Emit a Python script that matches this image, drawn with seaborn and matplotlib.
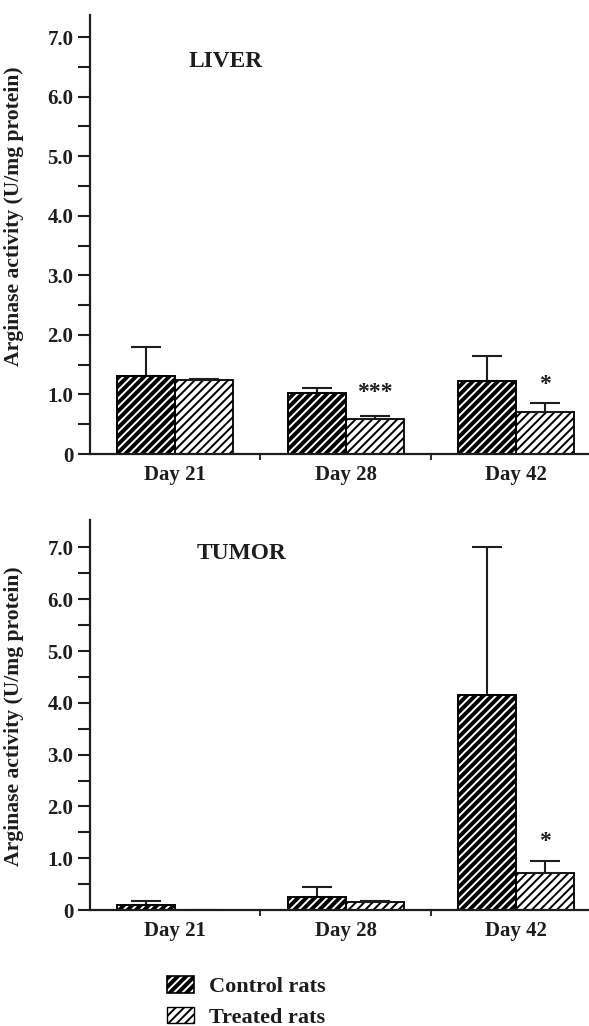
import numpy as np
import pandas as pd
import matplotlib
matplotlib.use("Agg")
import matplotlib.pyplot as plt
from matplotlib.patches import Patch, Rectangle
from matplotlib.legend_handler import HandlerTuple
from matplotlib.ticker import FixedLocator
import seaborn as sns

# ---------------- data ----------------
days = ["Day 21", "Day 28", "Day 42"]
groups = ["Control rats", "Treated rats"]

liver_control = [1.31, 1.02, 1.22]
liver_control_err = [0.49, 0.08, 0.43]
liver_treated = [1.24, 0.59, 0.70]
liver_treated_err = [0.02, 0.04, 0.16]
liver_stars = ["", "***", "*"]
liver_star_y = [np.nan, 0.94, 1.07]

tumor_control = [0.10, 0.26, 4.15]
tumor_control_err = [0.07, 0.19, 2.85]
tumor_treated = [0.0, 0.15, 0.71]
tumor_treated_err = [np.nan, 0.03, 0.24]
tumor_stars = ["", "", "*"]
tumor_star_y = [np.nan, np.nan, 1.21]

ytick_vals = [0, 1, 2, 3, 4, 5, 6, 7]
ytick_labels = ["0", "1.0", "2.0", "3.0", "4.0", "5.0", "6.0", "7.0"]
ylabel = "Arginase activity (U/mg protein)"

INK = "#1e1c1d"
HATCH = "////"

sns.set_theme(style="white")
plt.rcParams["font.family"] = ["Liberation Serif", "DejaVu Serif"]
plt.rcParams["font.weight"] = "bold"
plt.rcParams["hatch.linewidth"] = 1.4
plt.rcParams["text.color"] = INK
plt.rcParams["axes.labelcolor"] = INK
plt.rcParams["xtick.color"] = INK
plt.rcParams["ytick.color"] = INK

W, H = 589, 1026
fig = plt.figure(figsize=(W / 100, H / 100), dpi=100)
ax_top = fig.add_axes([90 / W, 572 / H, 499 / W, 439 / H])
ax_bot = fig.add_axes([90 / W, 116 / H, 499 / W, 390 / H])


def make_df(ctrl, trt):
    return pd.DataFrame({
        "day": days * 2,
        "group": [groups[0]] * 3 + [groups[1]] * 3,
        "value": list(ctrl) + list(trt),
    })


def draw_panel(ax, ctrl, ctrl_err, trt, trt_err, stars, star_y, title, ytop,
               title_xy, label_y):
    df = make_df(ctrl, trt)
    sns.barplot(data=df, x="day", y="value", hue="group", order=days,
                hue_order=groups, palette=["black", "white"], width=0.68,
                errorbar=None, saturation=1, legend=False, ax=ax,
                edgecolor="black", linewidth=1.3)
    errs = [ctrl_err, trt_err]
    conts = list(ax.containers)
    for ci, cont in enumerate(conts):
        xs, hs = [], []
        for bar in cont.patches:
            bar.set_hatch(HATCH)
            if ci == 0:
                bar.set_edgecolor("white")
                bar.set_linewidth(0)
                ax.add_patch(Rectangle(bar.get_xy(), bar.get_width(),
                                       bar.get_height(), fill=False,
                                       edgecolor="black", linewidth=1.4,
                                       zorder=bar.get_zorder() + 0.1))
            else:
                bar.set_edgecolor("black")
            xs.append(bar.get_x() + bar.get_width() / 2)
            hs.append(bar.get_height())
        e = np.array(errs[ci], dtype=float)
        ax.errorbar(xs, hs, yerr=[np.zeros_like(e), e], fmt="none",
                    ecolor=INK, elinewidth=1.5, capsize=10.5, capthick=1.5,
                    zorder=1)
        if ci == 1:
            for x, s, sy in zip(xs, stars, star_y):
                if s:
                    ax.text(x, sy, s, ha="center", va="baseline",
                            fontsize=17, fontweight="bold", color=INK)

    ax.set_xlim(-0.5, 2.427)
    ax.set_ylim(0, ytop)
    ax.set_yticks(ytick_vals)
    ax.set_yticklabels(ytick_labels)
    ax.yaxis.set_minor_locator(FixedLocator(np.arange(0.5, 7.0, 1.0)))
    ax.xaxis.set_minor_locator(FixedLocator([0.5, 1.5]))
    ax.tick_params(axis="y", which="both", direction="out", length=9,
                   width=1.5, left=True, labelsize=15, pad=3)
    ax.tick_params(axis="x", which="major", length=0, labelsize=15, pad=8)
    ax.tick_params(axis="x", which="minor", direction="out", length=4,
                   width=1.3, bottom=True)
    for lab in ax.get_xticklabels() + ax.get_yticklabels():
        lab.set_fontweight("bold")
    ax.set_xlabel("")
    ax.set_ylabel(ylabel, fontsize=15.6, fontweight="bold")
    ax.yaxis.set_label_coords(-0.132, label_y)
    for side in ["top", "right"]:
        ax.spines[side].set_visible(False)
    for side in ["left", "bottom"]:
        ax.spines[side].set_color(INK)
        ax.spines[side].set_linewidth(1.6)
    ax.text(title_xy[0], title_xy[1], title, transform=ax.transAxes,
            ha="left", va="center", fontsize=16.8, fontweight="bold",
            color=INK)


draw_panel(ax_top, liver_control, liver_control_err, liver_treated,
           liver_treated_err, liver_stars, liver_star_y, "LIVER", 7.37,
           (0.198, 0.893), 0.542)
draw_panel(ax_bot, tumor_control, tumor_control_err, tumor_treated,
           tumor_treated_err, tumor_stars, tumor_star_y, "TUMOR", 7.53,
           (0.214, 0.913), 0.496)

h_ctrl = (Patch(facecolor="black", edgecolor="white", hatch=HATCH, linewidth=0),
          Patch(facecolor="none", edgecolor="black", linewidth=1.2))
h_trt = Patch(facecolor="white", edgecolor="black", hatch=HATCH, linewidth=1.0)
fig.legend([h_ctrl, h_trt], groups, loc="upper left",
           bbox_to_anchor=(167 / W, 1 - 976 / H), frameon=False,
           handler_map={tuple: HandlerTuple(ndivide=1)},
           prop={"family": "Liberation Serif", "weight": "bold", "size": 16},
           handlelength=1.2, handleheight=0.77, handletextpad=0.68,
           labelspacing=0.44, borderpad=0, borderaxespad=0)

fig.savefig("out.png", dpi=100)
